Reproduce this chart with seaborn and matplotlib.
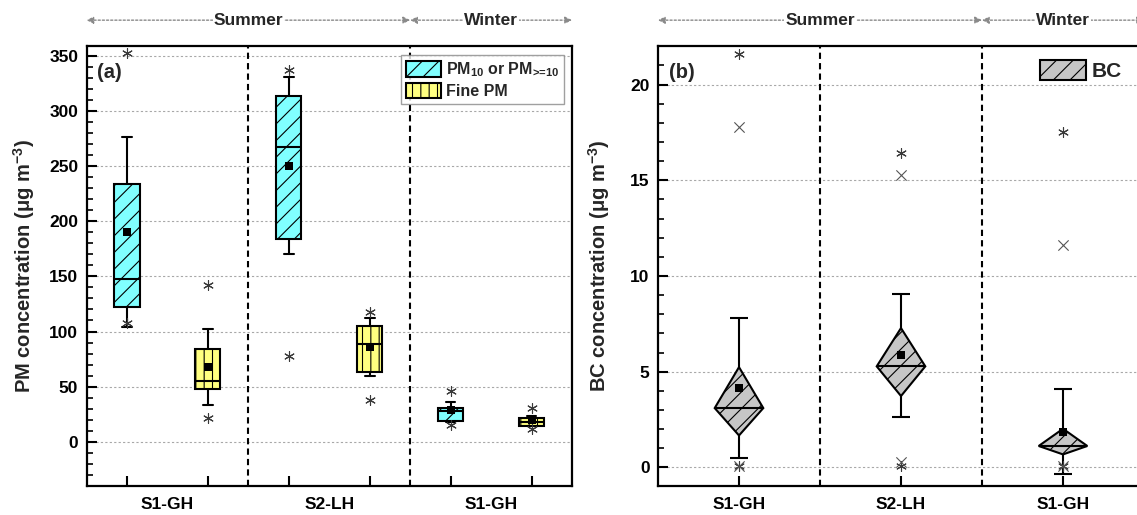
import numpy as np
import pandas as pd
import matplotlib
matplotlib.use("Agg")
import matplotlib.pyplot as plt
import seaborn as sns
from matplotlib import transforms
from matplotlib.ticker import MultipleLocator, FixedLocator, NullFormatter
from matplotlib.patches import Patch, Polygon

# ---------------- data ----------------
sites = ["S1-GH", "S2-LH", "S1-GH"]
seasons = ["Summer", "Winter"]
series_labels = [r"PM$_{10}$ or PM$_{\text{>=10}}$", "Fine PM"]

# Coarse PM (PM10 or PM>=10)
pm10_whislo = [104, 170, 18]
pm10_q1 = [122, 184, 19]
pm10_med = [148, 267, 28]
pm10_q3 = [234, 313, 31]
pm10_whishi = [276, 331, 36]
pm10_mean = [190, 250, 29]
pm10_max = [352, 337, 46]
pm10_min = [108, 78, 15]

# Fine PM
fine_whislo = [33.5, 60, 14]
fine_q1 = [47.5, 63, 14.5]
fine_med = [55.5, 89, 18]
fine_q3 = [84.5, 105, 22]
fine_whishi = [102.5, 112, 23]
fine_mean = [68, 86, 19.5]
fine_max = [142, 118, 31]
fine_min = [22, 38, 12]

# Black carbon
bc_whislo = [0.5, 2.63, -0.35]
bc_q1 = [1.67, 3.73, 0.68]
bc_med = [3.1, 5.28, 1.12]
bc_q3 = [5.24, 7.28, 2.02]
bc_whishi = [7.82, 9.05, 4.1]
bc_mean = [4.16, 5.85, 1.87]
bc_max = [21.6, 16.45, 17.5]
bc_min = [0.08, 0.1, 0.05]
bc_p99 = [17.8, 15.3, 11.6]
bc_p1 = [0.1, 0.3, 0.1]

# ---------------- style ----------------
sns.set_theme(style="white")
plt.rcParams["font.family"] = ["Liberation Sans", "DejaVu Sans"]
plt.rcParams["font.weight"] = "bold"
plt.rcParams["axes.labelweight"] = "bold"
plt.rcParams["mathtext.fontset"] = "custom"
plt.rcParams["mathtext.rm"] = "Liberation Sans:bold"
plt.rcParams["mathtext.it"] = "Liberation Sans:bold"
plt.rcParams["mathtext.bf"] = "Liberation Sans:bold"
plt.rcParams["mathtext.default"] = "rm"
plt.rcParams["hatch.linewidth"] = 0.8
plt.rcParams["hatch.color"] = "black"

CYAN = "#80FFFF"
YELLOW = "#FFFF80"
GRAY = "#C6C6C6"
OUTC = "#3A3A3A"

fig = plt.figure(figsize=(11.37, 5.15), dpi=100)
axA = fig.add_axes([86.5 / 1137, 29 / 515, 485.5 / 1137, 440.3 / 515])
axB = fig.add_axes([658 / 1137, 29 / 515, 486 / 1137, 440.3 / 515])


def style_axis(ax):
    for s in ax.spines.values():
        s.set_linewidth(1.6)
        s.set_color("black")
    ax.tick_params(axis="both", which="both", left=True, bottom=True,
                   right=False, top=False, direction="in", colors="black")
    ax.tick_params(axis="both", which="major", length=7, width=1.5,
                   labelsize=12.5, pad=6)
    ax.tick_params(axis="both", which="minor", length=4.5, width=1.2)
    ax.yaxis.grid(True, which="major", color="#A8A8A8", linestyle=(0, (2, 2)),
                  linewidth=0.8)
    ax.xaxis.grid(False)
    ax.set_axisbelow(True)


def header(ax, x0, x1, label):
    tr = transforms.blended_transform_factory(ax.transData, ax.transAxes)
    ax.annotate("", xy=(x0, 1.058), xytext=(x1, 1.058), xycoords=tr,
                textcoords=tr, annotation_clip=False,
                arrowprops=dict(arrowstyle="<|-|>", color="#8A8A8A",
                                linestyle=(0, (1.5, 1.5)), lw=1.0,
                                mutation_scale=10, shrinkA=0, shrinkB=0))
    ax.text((x0 + x1) / 2, 1.058, label, transform=tr, ha="center",
            va="center", fontsize=12.5, fontweight="bold", zorder=5,
            bbox=dict(facecolor="white", edgecolor="none", pad=0.5),
            clip_on=False)


# ---------------- panel (a) ----------------
ax = axA
style_axis(ax)
pos_coarse = [0, 2, 4]
pos_fine = [1, 3, 5]


def make_stats(whislo, q1, med, q3, whishi):
    return [dict(whislo=a, q1=b, med=c, q3=d, whishi=e, fliers=[])
            for a, b, c, d, e in zip(whislo, q1, med, q3, whishi)]


for stats, pos, col, hatch in [
        (make_stats(pm10_whislo, pm10_q1, pm10_med, pm10_q3, pm10_whishi), pos_coarse, CYAN, "//"),
        (make_stats(fine_whislo, fine_q1, fine_med, fine_q3, fine_whishi), pos_fine, YELLOW, "||")]:
    bp = ax.bxp(stats, positions=pos, widths=0.31, capwidths=0.12,
                patch_artist=True, showfliers=False, manage_ticks=False,
                boxprops=dict(facecolor=col, edgecolor="black", linewidth=1.5),
                medianprops=dict(color="black", linewidth=1.5),
                whiskerprops=dict(color="black", linewidth=1.5),
                capprops=dict(color="black", linewidth=1.5))
    for b in bp["boxes"]:
        b.set_hatch(hatch)
        b.set_zorder(3)
    for m in bp["medians"]:
        m.set_zorder(4)

dfA_mean = pd.DataFrame({"x": pos_coarse + pos_fine, "y": pm10_mean + fine_mean})
dfA_out = pd.DataFrame({"x": pos_coarse * 2 + pos_fine * 2,
                        "y": pm10_max + pm10_min + fine_max + fine_min})
sns.scatterplot(data=dfA_out, x="x", y="y", ax=ax, marker=(6, 2, 0), s=50,
                color=OUTC, linewidth=0.8, zorder=6, legend=False)
sns.scatterplot(data=dfA_mean, x="x", y="y", ax=ax, marker="s", s=30,
                color="black", linewidth=0, zorder=7, legend=False)

for xd in [1.5, 3.5]:
    ax.axvline(xd, color="black", linestyle=(0, (3, 2)), linewidth=1.5, zorder=2)

ax.set_xlim(-0.5, 5.5)
ax.set_ylim(-40, 359)
ax.set_yticks(np.arange(0, 351, 50))
ax.yaxis.set_minor_locator(MultipleLocator(10))
ax.xaxis.set_major_locator(FixedLocator([0, 1, 2, 3, 4, 5]))
ax.xaxis.set_major_formatter(NullFormatter())
ax.xaxis.set_minor_locator(FixedLocator([0.5, 2.5, 4.5]))
ax.set_xticklabels(sites, minor=True)
ax.tick_params(axis="x", which="minor", length=0, labelsize=12.5, pad=8)
ax.set_xlabel("")
ax.set_ylabel("PM concentration (μg m$^{-3}$)", fontsize=14.5, labelpad=9)
ax.text(0.022, 0.94, "(a)", transform=ax.transAxes, fontsize=14.5,
        fontweight="bold", va="center", ha="left")

handles = [Patch(facecolor=CYAN, edgecolor="black", hatch="//", linewidth=1.5),
           Patch(facecolor=YELLOW, edgecolor="black", hatch="||", linewidth=1.5)]
leg = ax.legend(handles, series_labels, loc="upper right",
                bbox_to_anchor=(0.99, 0.985), fontsize=11.5, frameon=True,
                fancybox=False, edgecolor="#888888", handlelength=2.2,
                handleheight=1.1, handletextpad=0.3, borderpad=0.3,
                labelspacing=0.25, borderaxespad=0.2)
leg.get_frame().set_linewidth(1.0)
for t in leg.get_texts():
    t.set_fontweight("bold")

header(ax, -0.5, 3.5, seasons[0])
header(ax, 3.5, 5.5, seasons[1])

# ---------------- panel (b) ----------------
ax = axB
style_axis(ax)
pos_bc = [0, 1, 2]
hw = 0.15
cap = 0.055
for x, lo, q1, med, q3, hi in zip(pos_bc, bc_whislo, bc_q1, bc_med, bc_q3, bc_whishi):
    ax.vlines(x, q3, hi, color="black", linewidth=1.5, zorder=3)
    ax.vlines(x, lo, q1, color="black", linewidth=1.5, zorder=3)
    ax.hlines([hi, lo], x - cap, x + cap, color="black", linewidth=1.5, zorder=3)
    poly = Polygon([(x - hw, med), (x, q3), (x + hw, med), (x, q1)], closed=True,
                   facecolor=GRAY, edgecolor="black", linewidth=1.5,
                   hatch="//", zorder=4)
    ax.add_patch(poly)
    ax.hlines(med, x - hw, x + hw, color="black", linewidth=1.5, zorder=5)

dfB_star = pd.DataFrame({"x": pos_bc * 2, "y": bc_max + bc_min})
dfB_x = pd.DataFrame({"x": pos_bc * 2, "y": bc_p99 + bc_p1})
dfB_mean = pd.DataFrame({"x": pos_bc, "y": bc_mean})
sns.scatterplot(data=dfB_star, x="x", y="y", ax=ax, marker=(6, 2, 0), s=50,
                color=OUTC, linewidth=0.8, zorder=6, legend=False)
sns.scatterplot(data=dfB_x, x="x", y="y", ax=ax, marker="x", s=55,
                color="#555555", linewidth=0.8, zorder=6, legend=False)
sns.scatterplot(data=dfB_mean, x="x", y="y", ax=ax, marker="s", s=30,
                color="black", linewidth=0, zorder=7, legend=False)

for xd in [0.5, 1.5]:
    ax.axvline(xd, color="black", linestyle=(0, (3, 2)), linewidth=1.5, zorder=2)

ax.set_xlim(-0.5, 2.5)
ax.set_ylim(-0.97, 22.03)
ax.set_yticks(np.arange(0, 21, 5))
ax.yaxis.set_minor_locator(MultipleLocator(1))
ax.set_xticks(pos_bc)
ax.set_xticklabels(sites)
ax.tick_params(axis="x", which="major", pad=8)
ax.set_xlabel("")
ax.set_ylabel("BC concentration (μg m$^{-3}$)", fontsize=14.5, labelpad=13)
ax.text(0.022, 0.94, "(b)", transform=ax.transAxes, fontsize=14.5,
        fontweight="bold", va="center", ha="left")

legB = ax.legend([Patch(facecolor=GRAY, edgecolor="black", hatch="//", linewidth=1.5)],
                 ["BC"], loc="upper right", bbox_to_anchor=(0.985, 1.0),
                 fontsize=15, frameon=False, handlelength=2.2, handleheight=1.05,
                 handletextpad=0.3, borderpad=0.2)
for t in legB.get_texts():
    t.set_fontweight("bold")

header(ax, -0.5, 1.5, seasons[0])
header(ax, 1.5, 2.5, seasons[1])

fig.savefig("out.png", dpi=100)
